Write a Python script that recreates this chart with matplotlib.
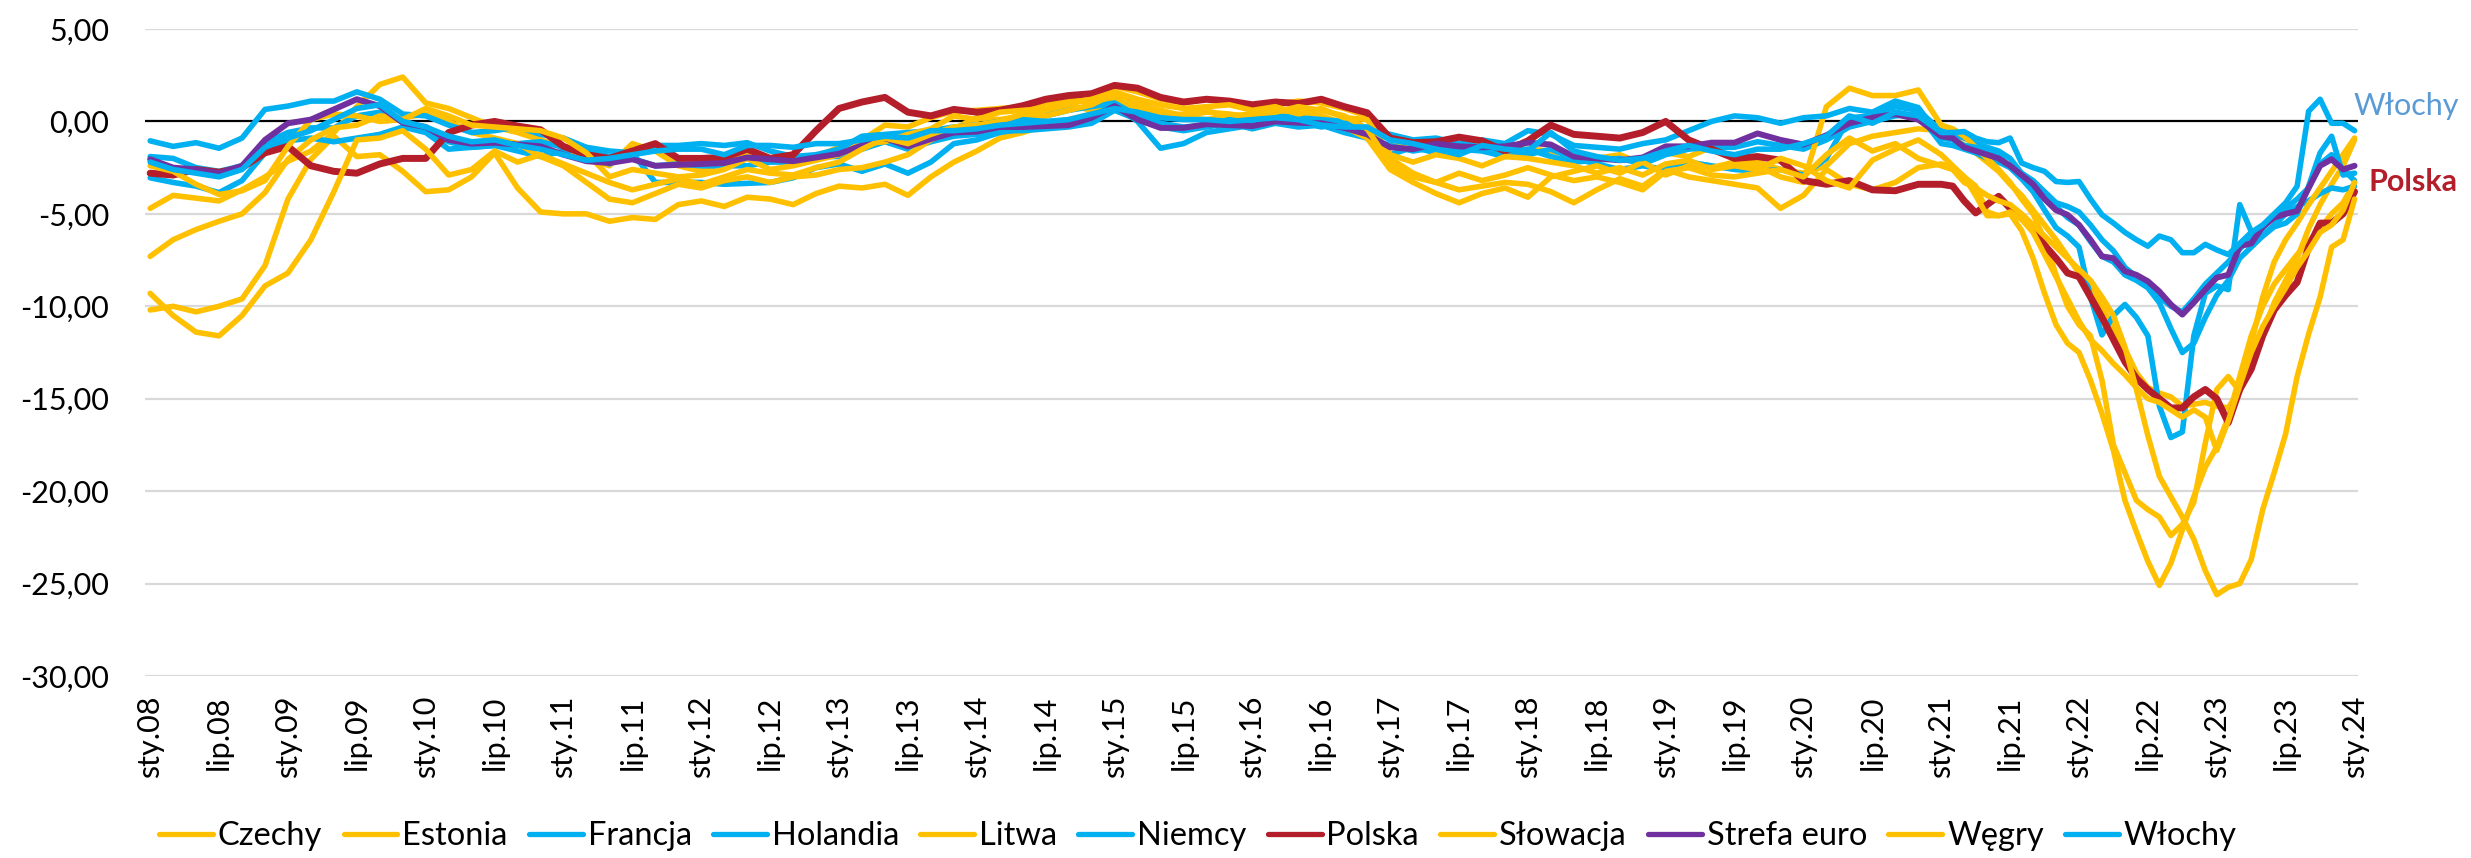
import matplotlib
matplotlib.use("Agg")
import matplotlib.pyplot as plt

plt.rcParams['font.family'] = ['Lato', 'DejaVu Sans']

# miesiące od sty.08: co 2 miesiące do lis.20, potem co miesiąc do sty.24
miesiace = list(range(0, 156, 2)) + list(range(156, 193))

czechy = [
    -4.7, -4.0, -4.15, -4.3, -3.7, -3.0,
    -2.15, -1.6, -0.6, 0.8, 2.0, 2.4,
    1.0, 0.7, 0.2, -0.3, -0.6, -1.0,
    -1.4, -2.0, -2.4, -1.2, -1.6, -2.4,
    -2.7, -2.2, -1.8, -2.2, -2.1, -1.9,
    -1.4, -1.0, -0.2, -0.3, 0.2, 0.55,
    0.6, 0.7, 0.8, 1.0, 1.2, 1.0,
    1.9, 1.6, 1.2, 1.0, 1.2, 1.0,
    0.8, 0.9, 1.1, 1.0, 0.7, 0.3,
    -1.0, -1.4, -1.6, -1.3, -1.5, -1.7,
    -1.5, -1.6, -1.9, -2.0, -1.8, -2.3,
    -1.7, -1.9, -1.4, -2.0, -2.2, -2.6,
    -2.8, -2.4, -1.2, -0.8, -0.6, -0.4,
    -0.5, -0.8, -1.3, -1.7, -2.2, -2.7, -3.4, -4.0, -4.8, -5.6, -6.4, -7.3,
    -8.2, -9.0, -10.0, -11.2, -12.3, -13.6, -14.4, -14.7, -14.9, -15.4, -15.3, -15.2,
    -15.4, -15.5, -14.5, -13.3, -11.5, -9.8, -8.6, -7.4, -5.8, -4.5, -3.4, -2.4,
    -1.0,
]
estonia = [
    -10.2, -10.0, -10.3, -10.0, -9.6, -7.8,
    -4.2, -2.05, -0.8, -1.9, -1.8, -2.7,
    -3.8, -3.7, -3.0, -1.7, -3.6, -4.9,
    -5.0, -5.0, -5.4, -5.2, -5.3, -4.5,
    -4.3, -4.6, -4.1, -4.2, -4.5, -3.9,
    -3.5, -3.6, -3.4, -4.0, -3.0, -2.2,
    -1.6, -0.9, -0.6, -0.2, 0.1, 0.4,
    1.2, 0.7, 0.3, 0.4, 0.6, 0.2,
    0.0, 0.4, 0.6, 0.3, -0.1, -0.5,
    -2.0, -2.8, -3.3, -3.7, -3.5, -3.3,
    -3.4, -3.8, -4.4, -3.7, -3.1, -3.5,
    -2.6, -3.0, -3.2, -3.4, -3.6, -4.7,
    -4.0, -2.6, -3.4, -3.7, -3.3, -2.5,
    -2.3, -2.5, -3.0, -3.5, -4.9, -5.1, -5.0, -5.9, -7.4, -9.3, -11.0, -12.0,
    -12.5, -14.0, -15.8, -17.8, -20.5, -22.2, -23.8, -25.1, -23.9, -22.1, -20.3, -18.7,
    -17.6, -16.0, -13.8, -11.6, -10.0, -8.8, -8.0, -7.2, -6.5, -5.8, -5.0, -4.4,
    -3.3,
]
francja = [
    -1.9, -2.0, -2.5, -2.7, -2.4, -1.15,
    -0.6, -0.35, -0.35, 0.3, 0.5, 0.1,
    -0.5, -1.1, -1.4, -1.3, -1.2, -1.1,
    -1.4, -1.6, -1.9, -2.0, -2.4, -2.3,
    -2.4, -2.4, -2.4, -2.2, -2.2, -1.9,
    -1.9, -1.5, -1.1, -1.5, -1.1, -0.8,
    -0.7, -0.5, -0.5, -0.4, -0.3, -0.1,
    0.6, 0.1, -0.3, -0.5, -0.3, -0.1,
    -0.4, -0.1, -0.3, -0.2, -0.6, -0.9,
    -1.3, -1.6, -1.4, -1.2, -1.4, -1.6,
    -1.5, -1.9, -2.2, -2.1, -2.0, -2.3,
    -1.8, -1.5, -1.4, -1.4, -1.1, -1.3,
    -1.5, -1.0, -0.3, 0.0, 0.3, 0.4,
    -1.2, -1.3, -1.5, -1.7, -2.0, -2.2, -2.5, -2.8, -3.3, -4.0, -4.6, -5.2,
    -5.6, -6.5, -7.3, -7.6, -8.3, -8.6, -9.0, -9.8, -11.2, -12.5, -12.0, -10.6,
    -9.4, -8.6, -7.4, -6.8, -6.2, -5.6, -5.0, -4.6, -4.3, -3.9, -3.6, -3.7,
    -3.5,
]
holandia = [
    -3.05, -3.3, -3.5, -3.85, -3.2, -1.7,
    -1.05, -0.9, -1.1, -0.9, -0.7, -0.3,
    -0.6, -1.5, -1.4, -1.3, -1.6, -1.9,
    -1.6, -1.5, -2.3, -1.7, -3.3, -3.3,
    -3.3, -3.4, -3.35, -3.3, -3.05, -2.5,
    -2.3, -2.7, -2.3, -2.8, -2.2, -1.2,
    -1.0, -0.6, -0.4, -0.2, 0.0, 0.3,
    0.9, 0.0, -1.45, -1.2, -0.6, -0.4,
    -0.2, 0.1, 0.0, -0.3, -0.1, -0.6,
    -1.8, -1.4, -1.7, -1.5, -1.6, -1.9,
    -1.8, -1.5, -2.0, -2.3, -2.6, -2.4,
    -2.6, -2.2, -2.4, -2.6, -2.7, -2.6,
    -2.9, -2.0, 0.2, 0.3, 0.8, 0.6,
    -0.5, -0.7, -0.9, -1.2, -1.4, -1.6, -2.0, -2.8, -3.2, -3.8, -4.4, -4.6,
    -4.9, -5.6, -6.4, -7.0, -7.9, -8.4, -8.9, -9.5, -10.0, -10.3, -9.6, -8.8,
    -8.2, -7.6, -6.9, -6.2, -5.8, -5.1, -4.7, -4.2, -3.6, -2.3, -1.8, -2.6,
    -3.2,
]
litwa = [
    -7.3, -6.4, -5.85, -5.4, -5.0, -3.85,
    -2.05, -1.0, -0.35, -0.2, 0.3, 0.2,
    0.4, 0.0, -0.6, -0.9, -1.2, -1.9,
    -2.4, -3.3, -4.2, -4.4, -3.9, -3.4,
    -3.6, -3.2, -3.0, -3.3, -3.0, -2.9,
    -2.6, -2.5, -2.2, -1.8, -1.0, -0.4,
    0.2, 0.1, 0.3, 0.6, 0.9, 0.6,
    1.3, 1.0, 0.5, 0.2, 0.1, 0.3,
    0.4, 0.7, 0.5, 0.2, -0.3, -0.9,
    -2.6, -3.3, -3.9, -4.4, -3.9, -3.6,
    -4.1, -3.0, -2.7, -2.4, -2.8, -2.2,
    -2.9, -2.4, -2.5, -2.2, -2.4, -3.0,
    -3.3, 0.8, 1.8, 1.4, 1.4, 1.7,
    -0.2, -0.4, -0.8, -1.4, -2.0, -2.6, -3.3, -4.2, -5.0, -6.4, -8.3, -10.0,
    -11.0, -11.6, -14.0, -17.5, -19.0, -20.5, -21.0, -21.4, -22.4, -21.8, -20.6, -17.4,
    -14.5, -13.8, -14.6, -12.0, -9.5, -7.6, -6.4, -5.5, -4.5, -3.6, -2.7, -1.8,
    -0.9,
]
niemcy = [
    -1.05, -1.35, -1.15, -1.45, -0.9, 0.65,
    0.83, 1.1, 1.1, 1.6, 1.2, 0.4,
    0.3, -0.2, -0.6, -0.5, -0.3, -0.7,
    -0.9, -1.4, -1.6, -1.7, -1.3, -1.3,
    -1.2, -1.3, -1.15, -1.6, -1.9, -1.8,
    -1.5, -0.8, -0.7, -0.6, -0.5, -0.3,
    -0.2, 0.0, 0.1, 0.3, 0.6, 0.8,
    1.0, 0.3, -0.1, -0.3, -0.2, 0.1,
    0.0, 0.3, 0.2, 0.1, 0.0, -0.4,
    -0.7, -1.0, -0.9, -1.2, -1.0, -1.2,
    -0.5, -0.7, -1.3, -1.4, -1.5, -1.2,
    -1.0, -0.5, 0.0, 0.3, 0.2, -0.1,
    0.2, 0.3, 0.7, 0.5, 1.1, 0.75,
    -0.9, -1.0, -1.3, -1.4, -1.5, -1.8, -2.5, -3.1, -3.8, -4.8, -5.75, -6.2,
    -6.8, -9.5, -11.55, -10.5, -9.9, -10.6, -11.6, -15.4, -17.1, -16.8, -11.6, -9.3,
    -8.9, -9.1, -4.5, -5.95, -6.2, -5.7, -5.5, -5.0, -3.5, -1.7, -0.8, -2.9,
    -2.8,
]
polska = [
    -2.8, -2.9, -2.6, -2.75, -2.5, -1.7,
    -1.35, -2.4, -2.7, -2.8, -2.3, -2.0,
    -2.0, -0.6, -0.2, 0.0, -0.25, -0.45,
    -1.35, -1.8, -2.0, -1.6, -1.2, -2.0,
    -2.0, -1.95, -1.5, -2.0, -1.8, -0.5,
    0.7, 1.05, 1.3, 0.5, 0.3, 0.65,
    0.5, 0.6, 0.85, 1.2, 1.4, 1.5,
    1.95, 1.8, 1.3, 1.05, 1.2, 1.1,
    0.9, 1.05, 0.97, 1.2, 0.8, 0.47,
    -0.9, -1.15, -1.1, -0.85, -1.05, -1.6,
    -1.05, -0.2, -0.7, -0.8, -0.9, -0.6,
    0.0, -1.0, -1.5, -2.0, -1.9, -2.1,
    -3.2, -3.4, -3.2, -3.7, -3.75, -3.4,
    -3.4, -3.5, -4.3, -4.95, -4.5, -4.05, -4.7, -5.2, -5.75, -6.7, -7.4, -8.2,
    -8.4, -9.5, -10.6, -11.8, -13.0, -13.9, -14.5, -15.0, -15.5, -15.5, -14.9, -14.5,
    -15.0, -16.3, -14.5, -13.4, -11.6, -10.2, -9.4, -8.7, -6.8, -5.5, -5.5, -5.0,
    -3.8,
]
slowacja = [
    -2.4, -2.7, -3.4, -3.95, -3.75, -3.2,
    -1.35, 0.1, 0.4, 0.3, 0.0, 0.1,
    0.7, 0.3, -0.2, -0.3, -0.4, -0.5,
    -0.9, -1.7, -3.0, -2.6, -2.8, -3.0,
    -2.9, -2.6, -2.0, -2.6, -2.4, -2.1,
    -1.8, -1.2, -1.1, -0.7, -0.4, 0.3,
    0.1, 0.5, 0.6, 0.7, 1.0, 1.2,
    1.6, 1.2, 0.9, 0.7, 0.8, 0.9,
    0.6, 0.8, 0.4, 0.7, 0.2, 0.1,
    -1.8, -2.2, -1.8, -2.0, -2.4, -1.9,
    -2.0, -2.2, -2.4, -2.8, -2.5, -2.9,
    -2.3, -2.1, -2.6, -2.4, -2.6, -2.0,
    -2.4, -3.2, -3.6, -2.1, -1.5, -1.0,
    -1.8, -2.4, -3.0, -4.0, -5.1, -5.1, -4.9, -5.3, -6.0, -7.2, -8.4, -9.6,
    -10.8, -11.8, -12.4, -13.1, -13.7, -14.4, -15.0, -15.2, -15.6, -16.0, -15.6, -16.0,
    -17.8, -16.2, -14.3, -12.5, -11.1, -10.0, -9.0, -7.9, -7.0, -6.0, -5.6, -4.8,
    -3.3,
]
strefa_euro = [
    -2.05, -2.5, -2.6, -2.8, -2.4, -1.0,
    -0.1, 0.1, 0.65, 1.2, 0.83, -0.07,
    -0.3, -1.0, -1.2, -1.15, -1.25, -1.35,
    -1.8, -2.15, -2.25, -2.05, -2.4, -2.35,
    -2.3, -2.25, -1.95, -2.05, -2.15, -1.95,
    -1.75, -1.3, -0.9, -1.35, -0.95, -0.6,
    -0.55, -0.3, -0.3, -0.25, -0.2, 0.2,
    0.83, 0.1, -0.35, -0.35, -0.15, -0.2,
    -0.25, 0.0, -0.07, -0.1, -0.35, -0.7,
    -1.4, -1.5, -1.2, -1.35, -1.4, -1.35,
    -1.15, -1.25, -1.9, -2.0, -2.1, -1.95,
    -1.35, -1.35, -1.15, -1.15, -0.65, -1.0,
    -1.25, -0.75, -0.1, 0.2, 0.4, 0.1,
    -0.8, -0.9, -1.4, -1.6, -1.8, -2.0, -2.4, -2.9, -3.4, -4.2, -4.8, -5.05,
    -5.6, -6.4, -7.3, -7.4, -8.1, -8.3, -8.65, -9.2, -9.9, -10.45, -9.8, -9.1,
    -8.45, -8.3, -6.75, -6.6, -5.7, -5.2, -5.0, -4.85, -3.6, -2.4, -2.05, -2.6,
    -2.4,
]
wegry = [
    -9.3, -10.5, -11.4, -11.6, -10.5, -8.9,
    -8.2, -6.4, -3.8, -1.0, -0.9, -0.5,
    -1.5, -2.9, -2.6, -1.6, -2.2, -1.8,
    -2.3, -2.8, -3.3, -3.7, -3.4, -3.1,
    -3.4, -3.0, -2.6, -2.8, -2.9, -2.5,
    -2.2, -1.5, -0.9, -1.2, -0.7, -0.3,
    -0.2, 0.0, 0.4, 0.3, 0.6, 0.9,
    1.5, 0.9, 0.6, 0.3, 0.5, 0.4,
    0.2, 0.5, 0.8, 0.6, 0.3, -0.4,
    -2.3, -3.0, -3.3, -2.8, -3.2, -2.9,
    -2.5, -2.9, -3.2, -3.0, -3.3, -3.7,
    -2.7, -2.5, -2.9, -3.0, -2.8, -2.6,
    -3.0, -1.8, -0.9, -1.6, -1.2, -2.0,
    -2.4, -2.6, -3.3, -3.6, -4.0, -4.3, -4.5, -5.0, -5.6, -6.2, -6.8, -7.4,
    -8.0, -8.6, -9.5, -10.5, -12.2, -14.5, -17.0, -19.2, -20.3, -21.4, -22.6, -24.3,
    -25.6, -25.2, -25.0, -23.7, -21.0, -19.0, -16.9, -13.8, -11.5, -9.5, -6.8, -6.4,
    -4.2,
]
wlochy = [
    -2.2, -2.6, -2.8, -3.0, -2.6, -1.4,
    -0.9, -0.5, 0.1, 0.7, 0.9, 0.0,
    -0.3, -0.8, -1.1, -1.0, -1.3, -1.5,
    -1.8, -2.1, -2.0, -1.8, -1.6, -1.5,
    -1.5, -1.8, -1.3, -1.3, -1.4, -1.2,
    -1.2, -1.0, -0.8, -0.9, -0.5, -0.5,
    -0.4, -0.2, -0.1, 0.0, 0.1, 0.4,
    0.7, 0.5, 0.2, 0.1, 0.1, 0.0,
    0.1, 0.2, 0.1, -0.2, -0.3, -0.3,
    -1.0, -1.2, -1.5, -1.8, -1.3, -1.5,
    -1.6, -0.6, -1.6, -1.9, -2.1, -2.0,
    -1.6, -1.3, -1.6, -1.8, -1.5, -1.5,
    -1.2, -0.8, 0.3, -0.1, 0.5, 0.3,
    -0.6, -0.6, -0.55, -0.9, -1.1, -1.15, -0.9, -2.25, -2.5, -2.7, -3.25, -3.3,
    -3.25, -4.2, -5.05, -5.5, -6.0, -6.4, -6.75, -6.2, -6.4, -7.1, -7.1, -6.65,
    -6.95, -7.2, -6.6, -6.0, -5.6, -5.0, -4.4, -3.5, 0.55, 1.2, -0.1, -0.1,
    -0.5,
]

# kolejność serii jak w legendzie
serie = [
    ("Czechy", czechy, "#FFC000", 4.0),
    ("Estonia", estonia, "#FFC000", 4.0),
    ("Francja", francja, "#00B0F0", 4.0),
    ("Holandia", holandia, "#00B0F0", 4.0),
    ("Litwa", litwa, "#FFC000", 4.0),
    ("Niemcy", niemcy, "#00B0F0", 4.0),
    ("Polska", polska, "#B41E2A", 5.0),
    ("Słowacja", slowacja, "#FFC000", 4.0),
    ("Strefa euro", strefa_euro, "#7030A0", 4.3),
    ("Węgry", wegry, "#FFC000", 4.0),
    ("Włochy", wlochy, "#00B0F0", 4.0),
]

lata = range(8, 25)
etykiety_x = []
for r in lata:
    etykiety_x.append(f"sty.{r:02d}")
    etykiety_x.append(f"lip.{r:02d}")
etykiety_x = etykiety_x[:-1]
pozycje_x = list(range(0, 193, 6))

poziomy_y = [5, 0, -5, -10, -15, -20, -25, -30]

fig = plt.figure(figsize=(24.71, 8.58), dpi=100)
ax = fig.add_axes([145 / 2471, 182 / 858, (2358 - 145) / 2471, (829 - 182) / 858])

for y in poziomy_y:
    if y == 0:
        continue
    ax.axhline(y, color="#D9D9D9", lw=1.6, zorder=0)
ax.axhline(0, color="black", lw=1.6, zorder=1)

for nazwa, wartosci, kolor, grubosc in serie:
    ax.plot(miesiace, wartosci, color=kolor, lw=grubosc, label=nazwa,
            solid_joinstyle="round", solid_capstyle="round", zorder=2)

ax.set_xlim(-0.45, 192.3)
ax.set_ylim(-30, 5)
ax.set_yticks(poziomy_y)
ax.set_yticklabels([f"{v:.2f}".replace(".", ",") for v in poziomy_y], fontsize=22)
ax.set_xticks(pozycje_x)
ax.set_xticklabels(etykiety_x, rotation=90, fontsize=22)
ax.tick_params(axis="y", length=0, pad=26)
ax.tick_params(axis="x", length=0, pad=14)
for s in ax.spines.values():
    s.set_visible(False)

ax.text(191.9, 0.85, "Włochy", color="#5B9BD5", fontsize=22,
        ha="left", va="center", clip_on=False)
ax.text(193.2, -3.25, "Polska", color="#B41E2A", fontsize=22, fontweight="bold",
        ha="left", va="center", clip_on=False)

leg = fig.legend(loc="center", bbox_to_anchor=(1198 / 2471, 22 / 858), ncol=11,
                 frameon=False, fontsize=23.5, handlelength=1.65, handletextpad=0.15,
                 columnspacing=0.65, borderaxespad=0)
for linia in leg.get_lines():
    linia.set_linewidth(3.8)

fig.savefig("out.png", dpi=100)
